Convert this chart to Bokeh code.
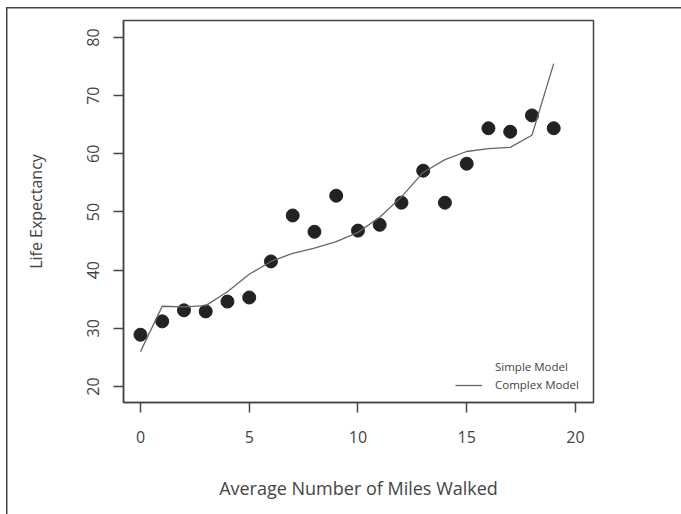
from bokeh.plotting import figure
from bokeh.embed import file_html
from bokeh.resources import INLINE
from bokeh.models import Legend, LegendItem, FixedTicker, ColumnDataSource

# Data
miles = list(range(20))
life_expectancy = [28.9, 31.2, 33.1, 32.9, 34.6, 35.3, 41.5, 49.4, 46.6, 52.8,
                   46.8, 47.8, 51.6, 57.1, 51.6, 58.3, 64.4, 63.8, 66.6, 64.4]
complex_x = list(range(20))
complex_y = [26.0, 33.8, 33.7, 33.9, 36.3, 39.3, 41.5, 42.9, 43.8, 44.9,
             46.5, 49.1, 52.6, 56.8, 59.0, 60.4, 60.9, 61.1, 63.2, 75.5]
x_ticks = [0, 5, 10, 15, 20]
y_ticks = [20, 30, 40, 50, 60, 70, 80]

FONT = "Open Sans"
INK = "#444444"

p = figure(width=681, height=514, output_backend="svg", toolbar_location=None,
           x_range=(-0.78, 20.83), y_range=(17.25, 82.92),
           min_border_left=123, min_border_right=88, min_border_top=20,
           min_border_bottom=112)
p.styles = {
    "background": ("linear-gradient(#444444,#444444) 6px 7px / 100% 1.5px no-repeat, "
                   "linear-gradient(#444444,#444444) 6px 7px / 1.5px 100% no-repeat, white"),
}

p.xgrid.visible = False
p.ygrid.visible = False
p.outline_line_color = INK
p.outline_line_width = 1.5
p.background_fill_color = "white"
p.border_fill_alpha = 0

for ax in (p.xaxis[0], p.yaxis[0]):
    ax.axis_line_color = INK
    ax.axis_line_width = 1.5
    ax.major_tick_line_color = INK
    ax.major_tick_line_width = 1.5
    ax.major_tick_out = 10
    ax.major_tick_in = 0
    ax.minor_tick_line_color = None
    ax.major_label_text_font = FONT
    ax.major_label_text_font_size = "16px"
    ax.major_label_text_color = INK
    ax.axis_label_text_font = FONT
    ax.axis_label_text_font_style = "normal"
    ax.axis_label_text_color = INK

p.xaxis.axis_label_text_font_size = "18px"
p.yaxis.axis_label_text_font_size = "16px"
p.xaxis.ticker = FixedTicker(ticks=x_ticks)
p.yaxis.ticker = FixedTicker(ticks=y_ticks)
p.yaxis.major_label_orientation = "vertical"
p.xaxis.major_label_standoff = 18
p.yaxis.major_label_standoff = 14
p.xaxis.axis_label = "Average Number of Miles Walked"
p.yaxis.axis_label = "Life Expectancy"
p.xaxis.axis_label_standoff = 30
p.yaxis.axis_label_standoff = 38

src = ColumnDataSource(dict(x=miles, y=life_expectancy))
p.scatter("x", "y", source=src, size=13, color="#222222")

line_src = ColumnDataSource(dict(x=complex_x, y=complex_y))
cline = p.line("x", "y", source=line_src, line_color="#666666", line_width=1.3)

dummy = p.line(x=[], y=[], line_alpha=0)

legend = Legend(items=[LegendItem(label="Simple Model", renderers=[dummy]),
                       LegendItem(label="Complex Model", renderers=[cline])],
                location=(332, 10), padding=0, margin=0, spacing=3,
                glyph_width=27, glyph_height=14, label_height=14,
                label_standoff=13, border_line_alpha=0,
                background_fill_alpha=0, label_text_font=FONT,
                label_text_font_size="11.5px", label_text_color=INK)
p.add_layout(legend)

open("out.html", "w").write(file_html(p, INLINE))
